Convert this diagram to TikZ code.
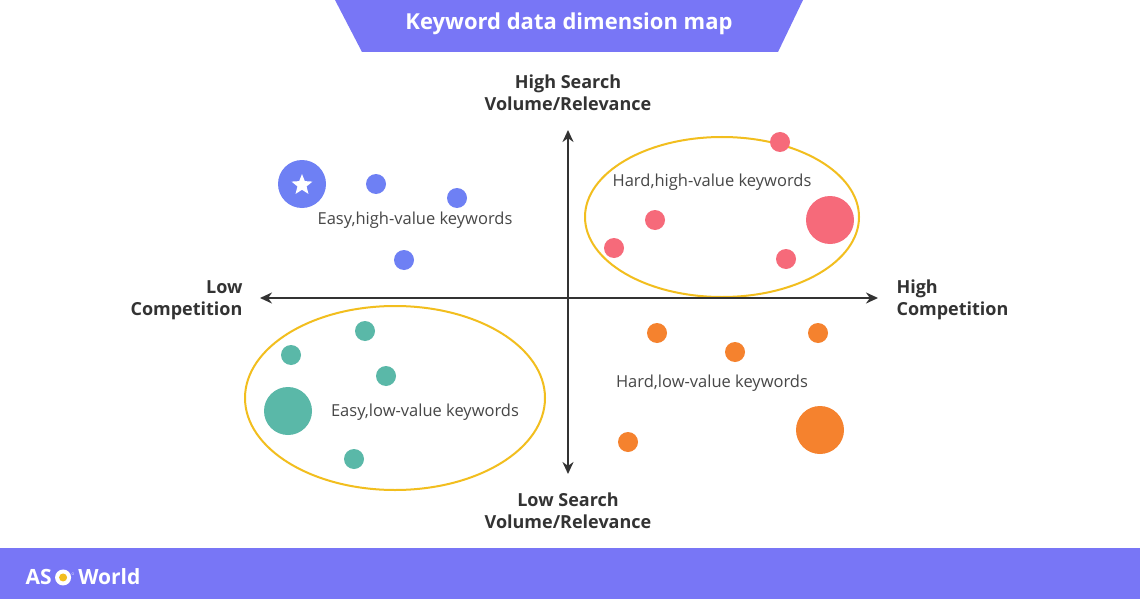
\documentclass[tikz,border=0pt]{standalone}
\usepackage{fontspec}
\setmainfont{Open Sans}
\usetikzlibrary{arrows.meta,shapes.geometric}
\definecolor{purp}{HTML}{7876F6}
\definecolor{gold}{HTML}{F2BE1E}
\definecolor{bl}{HTML}{6E80F4}
\definecolor{rd}{HTML}{F66A7A}
\definecolor{og}{HTML}{F5822E}
\definecolor{tl}{HTML}{5AB8A8}
\definecolor{ax}{HTML}{333333}
\tikzset{
 dot/.style={circle,fill=#1,inner sep=0pt,minimum size=20pt},
 bigdot/.style={circle,fill=#1,inner sep=0pt,minimum size=48pt},
 lbl/.style={font=\fontsize{16.5}{18}\selectfont,text=ax!90},
 axl/.style={font=\fontsize{18}{22}\selectfont\bfseries,text=ax,align=center},
 axis/.style={line width=2.6pt,draw=ax,{Stealth[length=12pt,width=11pt]}-{Stealth[length=12pt,width=11pt]}},
 ring/.style={draw=gold,line width=2pt}
}
\begin{document}
\begin{tikzpicture}[x=1pt,y=-1pt]
\useasboundingbox (0,0) rectangle (1140,599);
\fill[white] (0,0) rectangle (1140,599);
\fill[purp] (0,548) rectangle (1140,599);
\fill[purp] (335,0) -- (803,0) -- (778,52) -- (362,52) -- cycle;
\node[font=\fontsize{22}{24}\selectfont\bfseries,text=white] (title) at (569,24) {Keyword data dimension map};
\node[font=\fontsize{21}{24}\selectfont\bfseries,text=white,anchor=west] (logo) at (22,577) {AS\,\tikz[baseline=-7pt]{\fill[white](0,0) circle (8pt);\fill[gold](0,0) circle (4pt);}\raisebox{9pt}{\tiny$\circ$}\,World};
% ellipses
\node[ring,ellipse,minimum width=274pt,minimum height=160pt] (e1) at (722,217) {};
\node[ring,ellipse,minimum width=300pt,minimum height=184pt] (e2) at (395,398) {};
% axes
\coordinate (L) at (260,298); \coordinate (R) at (878,298);
\coordinate (T) at (568,130); \coordinate (B) at (568,474);
\draw[axis] (L) -- (R);
\draw[axis] (T) -- (B);
\node[axl] (tl) at (568,93) {High Search\\Volume/Relevance};
\node[axl] (bl) at (568,511) {Low Search\\Volume/Relevance};
\node[axl,align=right,anchor=east] (ll) at (246,300) {Low\\Competition};
\node[axl,align=left,anchor=west] (rl) at (893,300) {High\\Competition};
% blue
\node[bigdot=bl] (s) at (302,184) {};
\node[star,star points=5,star point ratio=2.3,fill=white,inner sep=0pt,minimum size=22pt] (sv) at (302,185) {};
\node[dot=bl] (b1) at (376,184) {};
\node[dot=bl] (b2) at (457,198) {};
\node[dot=bl] (b3) at (404,260) {};
% red
\node[dot=rd] (r1) at (780,142) {};
\node[dot=rd] (r2) at (655,220) {};
\node[dot=rd] (r3) at (614,248) {};
\node[bigdot=rd] (r4) at (830,220) {};
\node[dot=rd] (r5) at (786,259) {};
% orange
\node[dot=og] (o1) at (657,333) {};
\node[dot=og] (o2) at (735,352) {};
\node[dot=og] (o3) at (818,333) {};
\node[dot=og] (o4) at (628,442) {};
\node[bigdot=og] (o5) at (820,430) {};
% teal
\node[dot=tl] (t1) at (365,331) {};
\node[dot=tl] (t2) at (291,355) {};
\node[dot=tl] (t3) at (386,376) {};
\node[bigdot=tl] (t4) at (288,411) {};
\node[dot=tl] (t5) at (354,459) {};
% labels
\node[lbl] (l1) at (415,220) {Easy,high-value keywords};
\node[lbl] (l2) at (712,182) {Hard,high-value keywords};
\node[lbl] (l3) at (712,383) {Hard,low-value keywords};
\node[lbl] (l4) at (425,412) {Easy,low-value keywords};
\end{tikzpicture}
\end{document}
